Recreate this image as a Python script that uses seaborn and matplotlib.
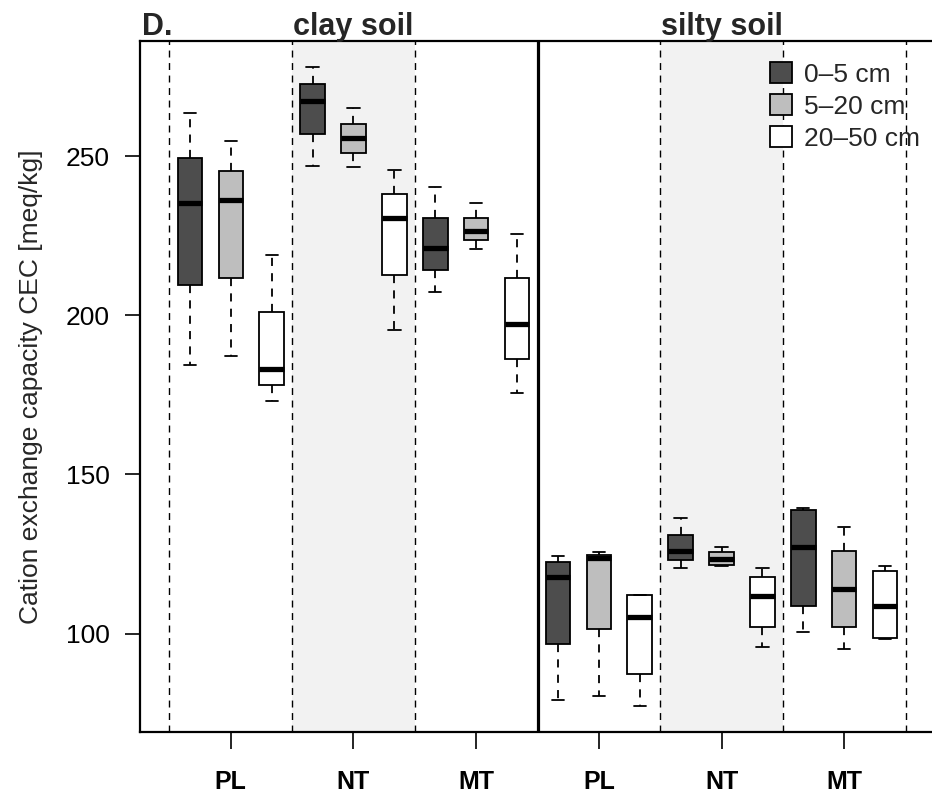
import numpy as np
import pandas as pd
import matplotlib
matplotlib.use("Agg")
import matplotlib.pyplot as plt
import seaborn as sns
from matplotlib.patches import Patch
from matplotlib.transforms import blended_transform_factory

# ---------------- data ----------------
groups = ["clay PL", "clay NT", "clay MT", "silty PL", "silty NT", "silty MT"]
tick_labels = ["PL", "NT", "MT", "PL", "NT", "MT"]
depths = ["0\u20135 cm", "5\u201320 cm", "20\u201350 cm"]
depth_colors = ["#4D4D4D", "#BEBEBE", "#FFFFFF"]
soil_titles = ["clay soil", "silty soil"]
panel_label = "D."
y_label = "Cation exchange capacity CEC [meq/kg]"

# five-number summaries per group: [min, Q1, median, Q3, max]
cec_0_5 = [
    [184.3, 209.7, 235.2, 249.4, 263.5],
    [246.9, 257.0, 267.4, 272.8, 278.2],
    [207.4, 214.3, 221.2, 230.7, 240.4],
    [79.0, 96.8, 117.8, 122.5, 124.3],
    [120.7, 123.1, 125.8, 131.0, 136.2],
    [100.6, 108.6, 127.1, 138.7, 139.5],
]
cec_5_20 = [
    [187.1, 211.7, 236.2, 245.4, 254.7],
    [246.6, 250.9, 255.6, 260.3, 265.1],
    [221.0, 223.6, 226.4, 230.7, 235.2],
    [80.3, 101.3, 123.7, 124.8, 125.5],
    [121.3, 121.7, 123.3, 125.5, 127.2],
    [95.3, 102.1, 113.9, 126.1, 133.4],
]
cec_20_50 = [
    [173.0, 178.0, 183.3, 201.2, 219.0],
    [195.3, 212.8, 230.5, 238.2, 245.8],
    [175.5, 186.4, 197.4, 211.6, 225.7],
    [77.1, 87.4, 105.2, 112.0, 112.0],
    [95.8, 102.1, 111.8, 117.8, 120.6],
    [98.3, 98.6, 108.6, 119.7, 121.1],
]

rows = []
for depth, summaries in zip(depths, [cec_0_5, cec_5_20, cec_20_50]):
    for g, s in zip(groups, summaries):
        for v in s:
            rows.append((g, depth, v))
df = pd.DataFrame(rows, columns=["group", "depth", "cec"])

# ---------------- style ----------------
sns.set_theme(style="white")
plt.rcParams["font.family"] = ["Liberation Sans", "DejaVu Sans"]

fig = plt.figure(figsize=(9.32, 7.97), dpi=100)
W, H = 932, 797
ax = fig.add_axes([140 / W, 65 / H, 795 / W, 691 / H])

# background shading for NT groups
for i, g in enumerate(groups):
    if g.endswith("NT"):
        ax.axvspan(i - 0.5, i + 0.5, color="#F2F2F2", lw=0, zorder=0)

# separators
for i in range(len(groups) + 1):
    xpos = i - 0.5
    if i == 3:
        ax.axvline(xpos, color="black", lw=2.3, zorder=1)
    else:
        ax.axvline(xpos, color="black", lw=1.0, ls=(0, (5, 4)), zorder=1)

lw = 1.3
sns.boxplot(
    data=df, x="group", y="cec", hue="depth",
    order=groups, hue_order=depths,
    palette=dict(zip(depths, depth_colors)), saturation=1,
    width=1.0, gap=0.4, whis=(0, 100), showfliers=False,
    linecolor="black", linewidth=lw, legend=False, ax=ax,
    boxprops=dict(edgecolor="black", linewidth=lw),
    whiskerprops=dict(color="black", linewidth=lw, linestyle=(0, (4.5, 4))),
    capprops=dict(color="black", linewidth=lw),
    medianprops=dict(color="black", linewidth=3.8, solid_capstyle="butt"),
)

vals = df["cec"].to_numpy()
r = vals.max() - vals.min()
ax.set_ylim(vals.min() - 0.04 * r, vals.max() + 0.04 * r)
ax.set_xlim(-0.74, len(groups) - 1 + 0.74)

for side in ["left", "bottom", "top"]:
    ax.spines[side].set_visible(True)
    ax.spines[side].set_linewidth(1.6)
    ax.spines[side].set_color("black")
ax.spines["right"].set_visible(False)

ax.set_yticks([100, 150, 200, 250])
ax.tick_params(axis="y", left=True, direction="out", length=10.8, width=1.2,
               pad=11, labelsize=19, colors="black")
ax.set_xticks(range(len(groups)))
ax.set_xticklabels(tick_labels, fontweight="bold", fontsize=18)
ax.tick_params(axis="x", bottom=True, direction="out", length=12, width=1.2,
               pad=15.5, colors="black")
ax.set_xlabel("")
ax.set_ylabel("")
fig.text(31 / W, 1 - 387 / H, y_label, rotation=90, ha="center", va="center",
         fontsize=19)

# titles
tr = blended_transform_factory(ax.transData, ax.transAxes)
ax.text(1, 1 + 6 / 691, soil_titles[0], transform=tr, ha="center", va="baseline",
        fontsize=22, fontweight="bold")
ax.text(4, 1 + 6 / 691, soil_titles[1], transform=tr, ha="center", va="baseline",
        fontsize=22, fontweight="bold")
ax.text(2 / 795, 1 + 6 / 691, panel_label, transform=ax.transAxes, ha="left",
        va="baseline", fontsize=22, fontweight="bold")

# legend
handles = [Patch(facecolor=c, edgecolor="black", linewidth=1.3, label=d)
           for d, c in zip(depths, depth_colors)]
leg = ax.legend(handles=handles, loc="upper left",
                bbox_to_anchor=(770 / W, 1 - 62 / H), bbox_transform=fig.transFigure,
                frameon=False, fontsize=19, handlelength=0.85, handleheight=0.85,
                handletextpad=0.45, labelspacing=0.28, borderpad=0, borderaxespad=0)
leg.set_zorder(5)

fig.savefig("out.png", dpi=100)
